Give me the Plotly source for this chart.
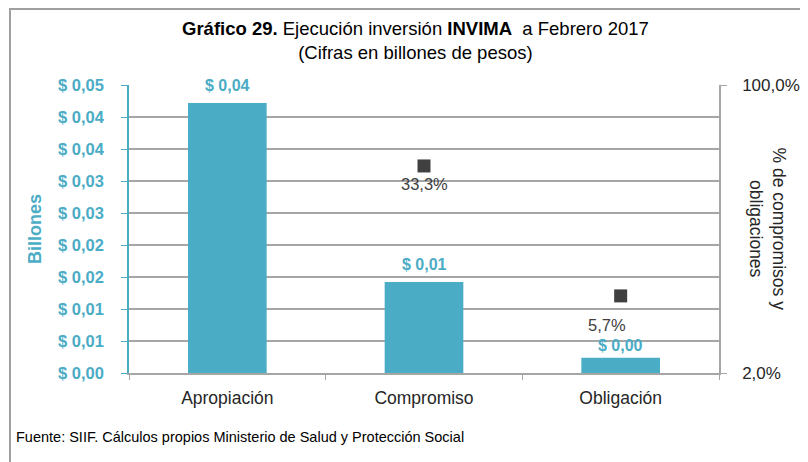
import math
import plotly.graph_objects as go

categories = ["Apropiación", "Compromiso", "Obligación"]
valores = [0.0422, 0.0142, 0.0024]          # billones de pesos
valor_labels = ["$ 0,04", "$ 0,01", "$ 0,00"]
pct_categories = ["Compromiso", "Obligación"]
pct_values = [0.333, 0.057]
pct_labels = ["33,3%", "5,7%"]
left_tickvals = [0, 0.005, 0.01, 0.015, 0.02, 0.025, 0.03, 0.035, 0.04, 0.045]
left_ticktext = ["$ 0,00", "$ 0,01", "$ 0,01", "$ 0,02", "$ 0,02",
                 "$ 0,03", "$ 0,03", "$ 0,04", "$ 0,04", "$ 0,05"]
right_tickvals = [0.02, 1.0]
right_ticktext = ["2,0%", "100,0%"]

TEAL = "#4BACC6"
DARK = "#404040"
TXT = "#262626"
GRID = "#A6A6A6"
FONT = "Liberation Sans, Arial, sans-serif"

fig = go.Figure()
fig.add_trace(go.Bar(
    x=categories, y=valores, marker=dict(color=TEAL, line=dict(width=0)),
    width=0.4, yaxis="y", showlegend=False,
))
fig.add_trace(go.Scatter(
    x=pct_categories, y=pct_values, mode="markers", yaxis="y2",
    marker=dict(symbol="square", size=13, color=DARK), showlegend=False,
))

# bar data labels
bar_label_shifts = [7, 7, 2]
for c, v, t, s in zip(categories, valores, valor_labels, bar_label_shifts):
    fig.add_annotation(x=c, y=v, xref="x", yref="y", text="<b>%s</b>" % t, showarrow=False,
                       yanchor="bottom", yshift=s, font=dict(size=16, color=TEAL, family=FONT))

# marker data labels (log axis -> annotation y in log10 units)
shifts = [(0, -18), (-14, -29)]
for c, v, t, (dx, dy) in zip(pct_categories, pct_values, pct_labels, shifts):
    fig.add_annotation(x=c, y=math.log10(v), xref="x", yref="y2", text=t, showarrow=False,
                       xshift=dx, yshift=dy, font=dict(size=16.5, color=DARK, family=FONT))

fig.update_layout(
    width=800, height=454,
    margin=dict(l=121, r=89, t=77, b=89),
    paper_bgcolor="white", plot_bgcolor="white",
    font=dict(family=FONT, color=TXT),
    bargap=0.6,
    xaxis=dict(
        type="category", showgrid=False, showline=True, linecolor=GRID, linewidth=2, automargin=False,
        ticks="outside", tickson="boundaries", tickcolor=GRID, ticklen=5, ticklabelstandoff=8,
        tickfont=dict(size=17.5, color=TXT, family=FONT), range=[-0.5, 2.5],
    ),
    yaxis=dict(
        range=[0, 0.045], tickvals=left_tickvals, automargin=False,
        ticktext=["<b>%s</b>" % t for t in left_ticktext],
        showgrid=True, gridcolor=GRID, gridwidth=1.5, zeroline=False,
        showline=True, linecolor=TEAL, linewidth=1.5,
        ticks="outside", tickcolor=TEAL, ticklen=6, ticklabelstandoff=14,
        tickfont=dict(size=16.5, color=TEAL, family=FONT),
        title=dict(text="<b>Billones</b>", font=dict(size=18, color=TEAL, family=FONT), standoff=12),
    ),
    yaxis2=dict(
        type="log", overlaying="y", side="right", automargin=False,
        range=[math.log10(0.02), 0], tickvals=right_tickvals, ticktext=right_ticktext,
        showgrid=False, zeroline=False, showline=True, linecolor=GRID, linewidth=1.5,
        ticks="outside", tickcolor=GRID, ticklen=6, ticklabelstandoff=12,
        tickfont=dict(size=17, color=TXT, family=FONT),
    ),
)

fig.add_annotation(
    x=0.486, y=1, xref="paper", yref="paper", yshift=20, yanchor="bottom",
    text="<b>Gráfico 29.</b> Ejecución inversión <b>INVIMA</b>  a Febrero 2017<br>(Cifras en billones de pesos)",
    showarrow=False, font=dict(size=18.5, color="black", family=FONT),
)
fig.add_annotation(
    x=1, y=0.5, xref="paper", yref="paper", xshift=72, textangle=90,
    text="% de compromisos y<br>obligaciones", showarrow=False,
    font=dict(size=17.5, color=TXT, family=FONT),
)
fig.add_annotation(
    x=(14 - 129) / 590, y=(373 - 447) / 288, xref="paper", yref="paper", xanchor="left",
    text="Fuente: SIIF. Cálculos propios Ministerio de Salud y Protección Social",
    showarrow=False, font=dict(size=14.5, color="black", family=FONT),
)

# outer frame (top and left visible)
fig.add_shape(type="rect", xref="paper", yref="paper",
              x0=(10 - 129) / 590, x1=(830 - 129) / 590, y0=(373 - 480) / 288, y1=(373 - 9) / 288,
              line=dict(color="#A0A0A0", width=2), layer="below")

fig.write_html("out.html")
